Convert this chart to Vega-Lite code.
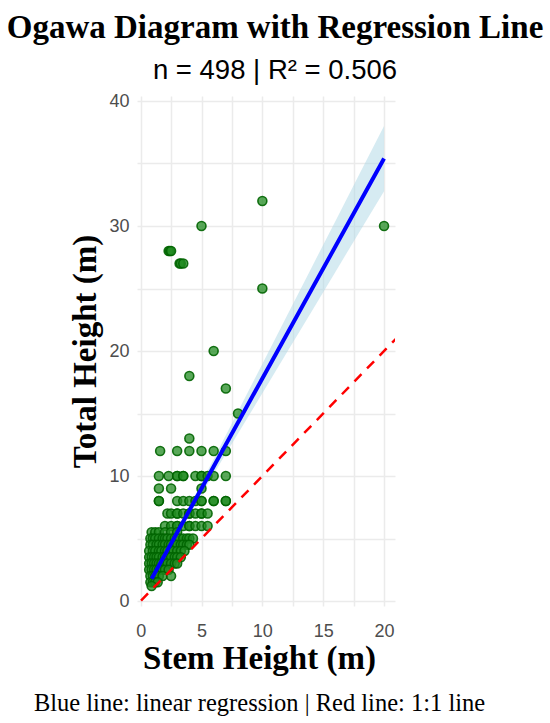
{
  "$schema": "https://vega.github.io/schema/vega-lite/v6.json",
  "background": "white",
  "padding": {"left": 6, "top": 11, "right": 5, "bottom": 5},
  "width": 258,
  "height": 510,
  "title": {
    "text": "Ogawa Diagram with Regression Line",
    "subtitle": "n = 498 | R² = 0.506",
    "anchor": "middle",
    "frame": "group",
    "dx": 9,
    "font": "Liberation Serif",
    "fontSize": 33,
    "fontWeight": "bold",
    "color": "black",
    "subtitleFont": "Liberation Sans",
    "subtitleFontSize": 27.5,
    "subtitleColor": "black",
    "subtitlePadding": 12,
    "offset": 8
  },
  "config": {
    "view": {"stroke": null},
    "axis": {
      "domain": false,
      "ticks": false,
      "gridColor": "#EBEBEB",
      "gridWidth": 1.5,
      "labelFont": "Liberation Sans",
      "labelFontSize": 18,
      "labelColor": "#4D4D4D",
      "titleFont": "Liberation Serif",
      "titleFontSize": 33,
      "titleFontWeight": "bold",
      "titleColor": "black"
    }
  },
  "datasets": {
    "points": [
      {"stem": 20, "total": 30}, {"stem": 10, "total": 32}, {"stem": 10, "total": 25},
      {"stem": 5, "total": 30}, {"stem": 2.3, "total": 28}, {"stem": 2.4, "total": 28},
      {"stem": 2.5, "total": 28}, {"stem": 3.2, "total": 27}, {"stem": 3.3, "total": 27},
      {"stem": 3.5, "total": 27}, {"stem": 6, "total": 20}, {"stem": 4, "total": 18},
      {"stem": 7, "total": 17}, {"stem": 8, "total": 15},
      {"stem": 4, "total": 13},
      {"stem": 1.6, "total": 12}, {"stem": 3, "total": 12}, {"stem": 4, "total": 12},
      {"stem": 5, "total": 12}, {"stem": 6, "total": 12}, {"stem": 7, "total": 12},
      {"stem": 1.5, "total": 10}, {"stem": 2.3, "total": 10}, {"stem": 3, "total": 10},
      {"stem": 3, "total": 10}, {"stem": 3.5, "total": 10}, {"stem": 3.5, "total": 10},
      {"stem": 4.5, "total": 10}, {"stem": 5, "total": 10}, {"stem": 5, "total": 10},
      {"stem": 5.5, "total": 10}, {"stem": 6, "total": 10}, {"stem": 7, "total": 10},
      {"stem": 1.5, "total": 9}, {"stem": 2.5, "total": 9}, {"stem": 5, "total": 9},
      {"stem": 1.5, "total": 8}, {"stem": 1.5, "total": 8}, {"stem": 3, "total": 8},
      {"stem": 3.5, "total": 8}, {"stem": 4, "total": 8}, {"stem": 4.5, "total": 8},
      {"stem": 5, "total": 8}, {"stem": 5, "total": 8}, {"stem": 6, "total": 8},
      {"stem": 6, "total": 8}, {"stem": 7, "total": 8}, {"stem": 7, "total": 8},
      {"stem": 2.2, "total": 7}, {"stem": 2.5, "total": 7}, {"stem": 3, "total": 7},
      {"stem": 3, "total": 7}, {"stem": 3.5, "total": 7}, {"stem": 4, "total": 7},
      {"stem": 4, "total": 7}, {"stem": 4.5, "total": 7}, {"stem": 5, "total": 7},
      {"stem": 5, "total": 7}, {"stem": 5.5, "total": 7},
      {"stem": 2, "total": 6}, {"stem": 2.5, "total": 6}, {"stem": 3, "total": 6},
      {"stem": 3, "total": 6}, {"stem": 3.5, "total": 6}, {"stem": 4, "total": 6},
      {"stem": 4, "total": 6}, {"stem": 4.5, "total": 6}, {"stem": 5, "total": 6},
      {"stem": 5.5, "total": 6},
      {"stem": 0.9, "total": 5.5}, {"stem": 1.2, "total": 5.5}, {"stem": 1.5, "total": 5.5},
      {"stem": 2, "total": 5.5}, {"stem": 2.5, "total": 5.5}, {"stem": 3, "total": 5.5},
      {"stem": 0.8, "total": 5}, {"stem": 1, "total": 5}, {"stem": 1.2, "total": 5},
      {"stem": 1.5, "total": 5}, {"stem": 1.8, "total": 5}, {"stem": 2, "total": 5},
      {"stem": 2.2, "total": 5}, {"stem": 2.5, "total": 5}, {"stem": 2.8, "total": 5},
      {"stem": 3, "total": 5}, {"stem": 3.2, "total": 5}, {"stem": 3.5, "total": 5},
      {"stem": 3.8, "total": 5}, {"stem": 4, "total": 5}, {"stem": 4.3, "total": 5},
      {"stem": 0.8, "total": 4.5}, {"stem": 1, "total": 4.5}, {"stem": 1.3, "total": 4.5},
      {"stem": 1.5, "total": 4.5}, {"stem": 1.8, "total": 4.5}, {"stem": 2, "total": 4.5},
      {"stem": 2.3, "total": 4.5}, {"stem": 2.5, "total": 4.5}, {"stem": 2.8, "total": 4.5},
      {"stem": 3, "total": 4.5}, {"stem": 3.3, "total": 4.5}, {"stem": 3.5, "total": 4.5},
      {"stem": 3.8, "total": 4.5}, {"stem": 4, "total": 4.5},
      {"stem": 0.7, "total": 4}, {"stem": 1, "total": 4}, {"stem": 1.2, "total": 4},
      {"stem": 1.5, "total": 4}, {"stem": 1.7, "total": 4}, {"stem": 2, "total": 4},
      {"stem": 2.2, "total": 4}, {"stem": 2.5, "total": 4}, {"stem": 2.7, "total": 4},
      {"stem": 3, "total": 4}, {"stem": 3.3, "total": 4}, {"stem": 3.6, "total": 4},
      {"stem": 0.7, "total": 3.5}, {"stem": 0.9, "total": 3.5}, {"stem": 1.1, "total": 3.5},
      {"stem": 1.3, "total": 3.5}, {"stem": 1.5, "total": 3.5}, {"stem": 1.8, "total": 3.5},
      {"stem": 2, "total": 3.5}, {"stem": 2.3, "total": 3.5}, {"stem": 2.5, "total": 3.5},
      {"stem": 2.8, "total": 3.5}, {"stem": 3, "total": 3.5}, {"stem": 3.3, "total": 3.5},
      {"stem": 0.7, "total": 3}, {"stem": 0.9, "total": 3}, {"stem": 1.1, "total": 3},
      {"stem": 1.3, "total": 3}, {"stem": 1.5, "total": 3}, {"stem": 1.7, "total": 3},
      {"stem": 2, "total": 3}, {"stem": 2.2, "total": 3}, {"stem": 2.5, "total": 3},
      {"stem": 2.8, "total": 3}, {"stem": 3, "total": 3},
      {"stem": 0.7, "total": 2.5}, {"stem": 0.9, "total": 2.5}, {"stem": 1.1, "total": 2.5},
      {"stem": 1.3, "total": 2.5}, {"stem": 1.5, "total": 2.5}, {"stem": 1.8, "total": 2.5},
      {"stem": 2, "total": 2.5}, {"stem": 2.3, "total": 2.5},
      {"stem": 0.8, "total": 2}, {"stem": 1, "total": 2}, {"stem": 1.2, "total": 2},
      {"stem": 1.5, "total": 2}, {"stem": 1.8, "total": 2}, {"stem": 2.5, "total": 2},
      {"stem": 0.8, "total": 1.5}, {"stem": 1, "total": 1.5}, {"stem": 1.2, "total": 1.5},
      {"stem": 1.4, "total": 1.5}, {"stem": 0.9, "total": 1.2}
    ],
    "fit": [
      {"stem": 0.9, "total": 1.78, "lo": 1.56, "hi": 2.0},
      {"stem": 2, "total": 3.72, "lo": 3.57, "hi": 3.87},
      {"stem": 4, "total": 7.24, "lo": 6.91, "hi": 7.57},
      {"stem": 6, "total": 10.76, "lo": 10.16, "hi": 11.36},
      {"stem": 8, "total": 14.28, "lo": 13.4, "hi": 15.16},
      {"stem": 10, "total": 17.8, "lo": 16.63, "hi": 18.97},
      {"stem": 12, "total": 21.32, "lo": 19.86, "hi": 22.78},
      {"stem": 14, "total": 24.84, "lo": 23.09, "hi": 26.59},
      {"stem": 16, "total": 28.36, "lo": 26.33, "hi": 30.39},
      {"stem": 18, "total": 31.88, "lo": 29.56, "hi": 34.2},
      {"stem": 20, "total": 35.4, "lo": 32.79, "hi": 38.01}
    ],
    "oneToOne": [
      {"stem": -1, "total": -1},
      {"stem": 22, "total": 22}
    ]
  },
  "resolve": {"axis": {"x": "independent", "y": "independent"}},
  "layer": [
    {
      "data": {"name": "fit"},
      "mark": {"type": "area", "fill": "#ADD8E6", "opacity": 0.5},
      "encoding": {
        "x": {
          "field": "stem",
          "type": "quantitative",
          "scale": {"domain": [-0.3, 20.9], "nice": false, "zero": false},
          "axis": {
            "orient": "bottom",
            "title": "Blue line: linear regression | Red line: 1:1 line",
            "titleFontSize": 24.5,
            "titleFontWeight": "normal",
            "titleX": 122,
            "titleY": 104,
            "titleAlign": "center",
            "titleBaseline": "alphabetic",
            "labels": false,
            "grid": true,
            "values": [0, 2.5, 5, 7.5, 10, 12.5, 15, 17.5, 20]
          }
        },
        "y": {
          "field": "lo",
          "type": "quantitative",
          "scale": {"domain": [-0.4, 40.4], "nice": false, "zero": false},
          "axis": {
            "orient": "left",
            "title": null,
            "labels": false,
            "grid": true,
            "values": [0, 5, 10, 15, 20, 25, 30, 35, 40]
          }
        },
        "y2": {"field": "hi"}
      }
    },
    {
      "data": {"name": "points"},
      "mark": {
        "type": "circle",
        "size": 80,
        "fill": "#228B22",
        "fillOpacity": 0.75,
        "stroke": "#006400",
        "strokeWidth": 1.6,
        "strokeOpacity": 0.9
      },
      "encoding": {
        "x": {
          "field": "stem",
          "type": "quantitative",
          "scale": {"domain": [-0.3, 20.9], "nice": false, "zero": false},
          "axis": {
            "orient": "bottom",
            "title": "Stem Height (m)",
            "grid": false,
            "values": [0, 5, 10, 15, 20],
            "labelPadding": 16,
            "titlePadding": 2,
            "titleX": 122
          }
        },
        "y": {
          "field": "total",
          "type": "quantitative",
          "scale": {"domain": [-0.4, 40.4], "nice": false, "zero": false},
          "axis": {
            "orient": "left",
            "title": "Total Height (m)",
            "grid": false,
            "values": [0, 10, 20, 30, 40],
            "labelPadding": 8,
            "titlePadding": 6
          }
        }
      }
    },
    {
      "data": {"name": "fit"},
      "mark": {"type": "line", "color": "#0000FF", "strokeWidth": 4},
      "encoding": {
        "x": {"field": "stem", "type": "quantitative", "axis": null},
        "y": {"field": "total", "type": "quantitative", "axis": null}
      }
    },
    {
      "data": {"name": "oneToOne"},
      "mark": {
        "type": "line",
        "color": "#FF0000",
        "strokeWidth": 2.5,
        "strokeDash": [10, 8],
        "clip": true
      },
      "encoding": {
        "x": {"field": "stem", "type": "quantitative", "axis": null},
        "y": {"field": "total", "type": "quantitative", "axis": null}
      }
    }
  ]
}
